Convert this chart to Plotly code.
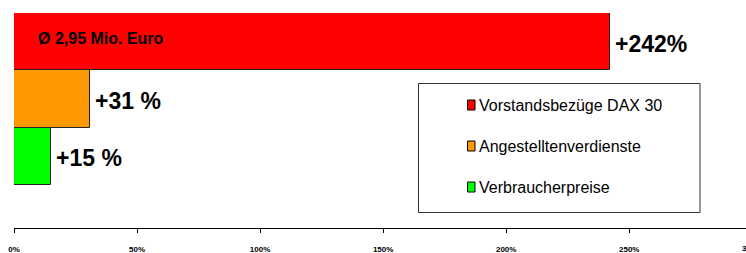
import plotly.graph_objects as go

# ---- data ----
categories = ["Vorstandsbezüge DAX 30", "Angestelltenverdienste", "Verbraucherpreise"]
values = [242, 31, 15]
value_labels = ["+242%", "+31 %", "+15 %"]
colors = ["#FF0000", "#FF9900", "#00FF00"]
inner_label = "Ø 2,95 Mio. Euro"
tick_values = [0, 50, 100, 150, 200, 250, 300]
tick_labels = ["0%", "50%", "100%", "150%", "200%", "250%", "300%"]

W, H = 746, 253
L, R, T, B = 14, 0, 13, 25
PW, PH = W - L - R, H - T - B
px_per_unit = 2.461
x_max = PW / px_per_unit

FONT = "Liberation Sans, Arial, sans-serif"


def px2x(px):
    return (px - L) / PW


def py2y(py):
    return (H - B - py) / PH


fig = go.Figure()
ypos = list(range(len(categories)))
fig.add_trace(go.Bar(
    x=values, y=ypos, orientation="h",
    marker=dict(color=colors, line=dict(color="#222222", width=1)),
    width=1.0, showlegend=False, hoverinfo="skip",
))

annotations = []
for v, yv, lab in zip(values, ypos, value_labels):
    annotations.append(dict(
        x=v, y=yv, xref="x", yref="y", text=f"<b>{lab}</b>", showarrow=False,
        xanchor="left", yanchor="middle", xshift=3, yshift=-2,
        font=dict(family=FONT, size=23, color="#000000"),
    ))
annotations.append(dict(
    x=px2x(36), y=0, xref="paper", yref="y", text=f"<b>{inner_label}</b>", showarrow=False,
    xanchor="left", yanchor="middle", yshift=3,
    font=dict(family=FONT, size=16, color="#000000"),
))
# partially visible last tick label
annotations.append(dict(
    x=px2x(L + 300 * px_per_unit), y=py2y(248.5), xref="paper", yref="paper",
    text="<b>300%</b>", showarrow=False, xanchor="center", yanchor="middle",
    font=dict(family=FONT, size=8, color="#000000"),
))

# ---- custom legend ----
shapes = [dict(type="rect", xref="paper", yref="paper",
               x0=px2x(418.5), x1=px2x(700), y0=py2y(212.5), y1=py2y(83.5),
               line=dict(color="#333333", width=1), fillcolor="white", layer="above")]
legend_y = [105, 146, 187]
for cat, col, ly in zip(categories, colors, legend_y):
    shapes.append(dict(type="rect", xref="paper", yref="paper",
                       x0=px2x(467.5), x1=px2x(475), y0=py2y(ly + 5), y1=py2y(ly - 5),
                       line=dict(color="#000000", width=1), fillcolor=col, layer="above"))
    annotations.append(dict(
        x=px2x(477), y=py2y(ly), xref="paper", yref="paper", text=cat, showarrow=False,
        xanchor="left", yanchor="middle",
        font=dict(family=FONT, size=16, color="#000000"),
    ))

fig.update_layout(
    width=W, height=H,
    margin=dict(l=L, r=R, t=T, b=B, pad=0, autoexpand=False),
    paper_bgcolor="white", plot_bgcolor="white",
    bargap=0,
    showlegend=False,
    xaxis=dict(range=[0, x_max], tickmode="array", tickvals=tick_values,
               ticktext=[f"<b>{t}</b>" for t in tick_labels], automargin=False,
               showgrid=False, zeroline=False, showline=True, linecolor="#000000", linewidth=1,
               ticks="outside", ticklen=4, tickcolor="#000000", tickwidth=1,
               ticklabelstandoff=9,
               tickfont=dict(family=FONT, size=8, color="#000000"), fixedrange=True),
    yaxis=dict(range=[3.25, -0.5], showgrid=False, zeroline=False, showline=False,
               showticklabels=False, ticks="", fixedrange=True, automargin=False),
    shapes=shapes,
    annotations=annotations,
)

fig.write_html("out.html", config={"displayModeBar": False},
               post_script="document.body.style.margin='0';document.body.style.overflow='hidden';")
